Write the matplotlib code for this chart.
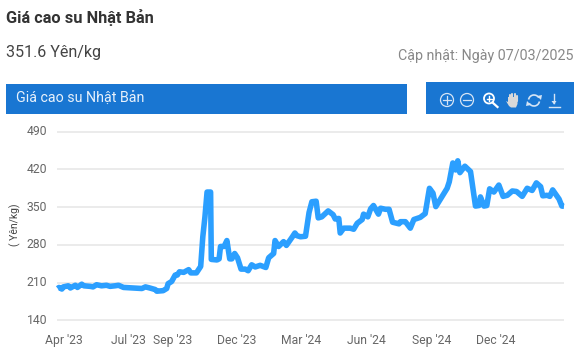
import matplotlib
matplotlib.use("Agg")
import matplotlib.pyplot as plt
import numpy as np
import pandas as pd
from matplotlib.patches import Rectangle, Circle, Arc, Polygon

plt.rcParams['font.family'] = ['Roboto', 'DejaVu Sans']

title = "Giá cao su Nhật Bản"
current = "351.6 Yên/kg"
updated = "Cập nhật: Ngày 07/03/2025"
unit = "( Yên/kg)"
yticks = [140, 210, 280, 350, 420, 490]
xtick_dates = ["2023-04-01", "2023-07-01", "2023-09-01", "2023-12-01", "2024-03-01",
               "2024-06-01", "2024-09-01", "2024-12-01"]
xtick_labels = ["Apr '23", "Jul '23", "Sep '23", "Dec '23", "Mar '24", "Jun '24", "Sep '24", "Dec '24"]

day_offset = [-9, -7, -3, -1, 6, 9, 16, 19, 25, 28, 37, 41, 46, 53, 60, 65, 72, 77, 84, 98,
              110, 115, 121, 129, 131, 140, 145, 147, 152, 157, 160, 163, 169, 176, 179, 187,
              193, 196, 199, 202, 207, 208, 216, 219, 221, 226, 230, 234, 237, 241, 245, 250,
              256, 260, 265, 270, 277, 285, 289, 296, 298, 303, 310, 314,
              322, 326, 329, 334, 341, 346, 350, 356, 359, 364, 373, 380, 383, 388, 390, 395,
              404, 409, 414, 421, 423, 429, 433, 437, 444, 447, 454, 459, 464, 473, 475, 482,
              489, 494, 503, 510, 516, 521, 525, 532, 541, 544, 549, 553, 556, 559, 566, 574,
              581, 586, 588, 593, 597, 601, 607, 614, 620, 626, 633, 639, 647, 654, 661, 667,
              673, 676, 682, 686, 690, 699, 703, 706]
price = [199, 201, 198, 202, 204, 200, 205, 201, 207, 204, 203, 202, 206, 204, 205, 203, 204, 205, 201, 200,
         199, 202, 200, 197, 194, 195, 199, 208, 212, 224, 224, 230, 229, 234, 228, 228,
         240, 295, 332, 378, 378, 253, 252, 254, 277, 277, 288, 254, 254, 264, 256, 235,
         235, 232, 243, 239, 242, 238, 256, 264, 288, 277, 286, 279,
         294, 302, 297, 295, 296, 340, 360, 361, 330, 332, 343, 336, 328, 329, 302, 311,
         311, 309, 320, 327, 337, 332, 347, 353, 337, 348, 346, 346, 322, 319, 323, 323,
         311, 327, 331, 338, 385, 376, 351, 366, 385, 397, 432, 419, 436, 414, 426, 416,
         352, 353, 369, 352, 353, 384, 378, 391, 370, 372, 380, 379, 370, 385, 381, 395,
         388, 371, 372, 370, 382, 365, 352, 351.6]

W, H = 584, 359
fig = plt.figure(figsize=(W / 100, H / 100), dpi=100, facecolor="white")

# chart area
ax = fig.add_axes([57 / W, 1 - 340 / H, (564 - 57) / W, (340 - 120) / H])
base = pd.Timestamp("2023-04-01")
dates = [base + pd.Timedelta(days=d) for d in day_offset]
x_left = base - pd.Timedelta(days=7 / 0.708)
x_right = pd.Timestamp("2025-03-07")
ax.set_xlim(x_left, x_right)
# value scale from grid pixel rows: 490 at y=131.7, 140 at y=320.3
px_per = (320.3 - 131.7) / 350
ax.set_ylim(140 - (340 - 320.3) / px_per, 490 + (131.7 - 120) / px_per)
for s in ax.spines.values():
    s.set_visible(False)
ax.set_yticks(yticks)
ax.set_xticks([pd.Timestamp(d) for d in xtick_dates])
ax.set_xticklabels(xtick_labels)
ax.tick_params(axis='both', length=0, labelsize=8.7, labelcolor="#666666")
ax.tick_params(axis='y', pad=7)
ax.tick_params(axis='x', pad=-4)
for lab in ax.get_yticklabels():
    lab.set_verticalalignment('center')
ax.grid(axis='y', color="#e6e6e6", lw=1.1)
ax.set_axisbelow(True)
ax.plot(dates, price, color="#2b9fff", lw=4.0, solid_joinstyle='round', solid_capstyle='butt', clip_on=False)

# page overlay in pixel coordinates
ov = fig.add_axes([0, 0, 1, 1], facecolor="none")
ov.set_xlim(0, W)
ov.set_ylim(H, 0)
ov.axis("off")

ov.text(6, 18, title, fontsize=11.8, fontweight='bold', color="#333333", va='center', ha='left')
ov.text(6, 53, current, fontsize=11.6, color="#444444", va='center', ha='left')
ov.text(574, 56, updated, fontsize=10.25, color="#888888", va='center', ha='right')

blue = "#1976d2"
ov.add_patch(Rectangle((6, 84), 401, 30, fc=blue, ec="none"))
ov.add_patch(Rectangle((426, 82), 148, 32, fc=blue, ec="none"))
ov.text(16, 98.5, title, fontsize=10.3, color="#e8f1fb", va='center', ha='left')

ov.text(15, 225, unit, fontsize=7.5, color="#444444", rotation=90, va='center', ha='center')

ic = "#d5e4f5"
ilw = 0.9
# zoom in
ov.add_patch(Circle((447, 100), 6.5, fc="none", ec=ic, lw=ilw))
ov.plot([443, 451], [100, 100], color=ic, lw=ilw)
ov.plot([447, 447], [96, 104], color=ic, lw=ilw)
# zoom out
ov.add_patch(Circle((467, 100), 6.5, fc="none", ec=ic, lw=ilw))
ov.plot([463, 471], [100, 100], color=ic, lw=ilw)
# magnifier
ov.add_patch(Circle((489, 98.5), 5, fc="none", ec="white", lw=1.3))
ov.plot([492.5, 497.5], [102.5, 107], color="white", lw=1.6)
ov.plot([486.5, 491.5], [98.5, 98.5], color="white", lw=1)
ov.plot([489, 489], [96, 101], color="white", lw=1)
# hand
hand = "#d9d9d9"
ov.add_patch(Polygon([(506, 101), (509, 106), (511, 107.5), (516, 107.5), (517.5, 104),
                      (517.5, 97), (508, 97), (508, 102)], fc=hand, ec="none"))
for fx, top in zip([509.5, 512, 514.5, 517], [95, 93.5, 94, 95.5]):
    ov.plot([fx, fx], [top, 101], color=hand, lw=1.5, solid_capstyle='round')
# refresh
ov.add_patch(Arc((534, 100.5), 11, 11, theta1=190, theta2=330, ec=ic, lw=1.2))
ov.add_patch(Arc((534, 100.5), 11, 11, theta1=10, theta2=150, ec=ic, lw=1.2))
ov.add_patch(Polygon([(537, 96), (542, 95), (541, 100)], fc=ic, ec="none"))
ov.add_patch(Polygon([(531, 105), (526, 106), (527, 101)], fc=ic, ec="none"))
# download
ov.plot([554, 554], [94, 103], color=ic, lw=1)
ov.add_patch(Polygon([(551.5, 101), (556.5, 101), (554, 104.5)], fc=ic, ec="none"))
ov.plot([548.5, 559.5], [106.5, 106.5], color=ic, lw=1)

fig.savefig("out.png", dpi=100)
